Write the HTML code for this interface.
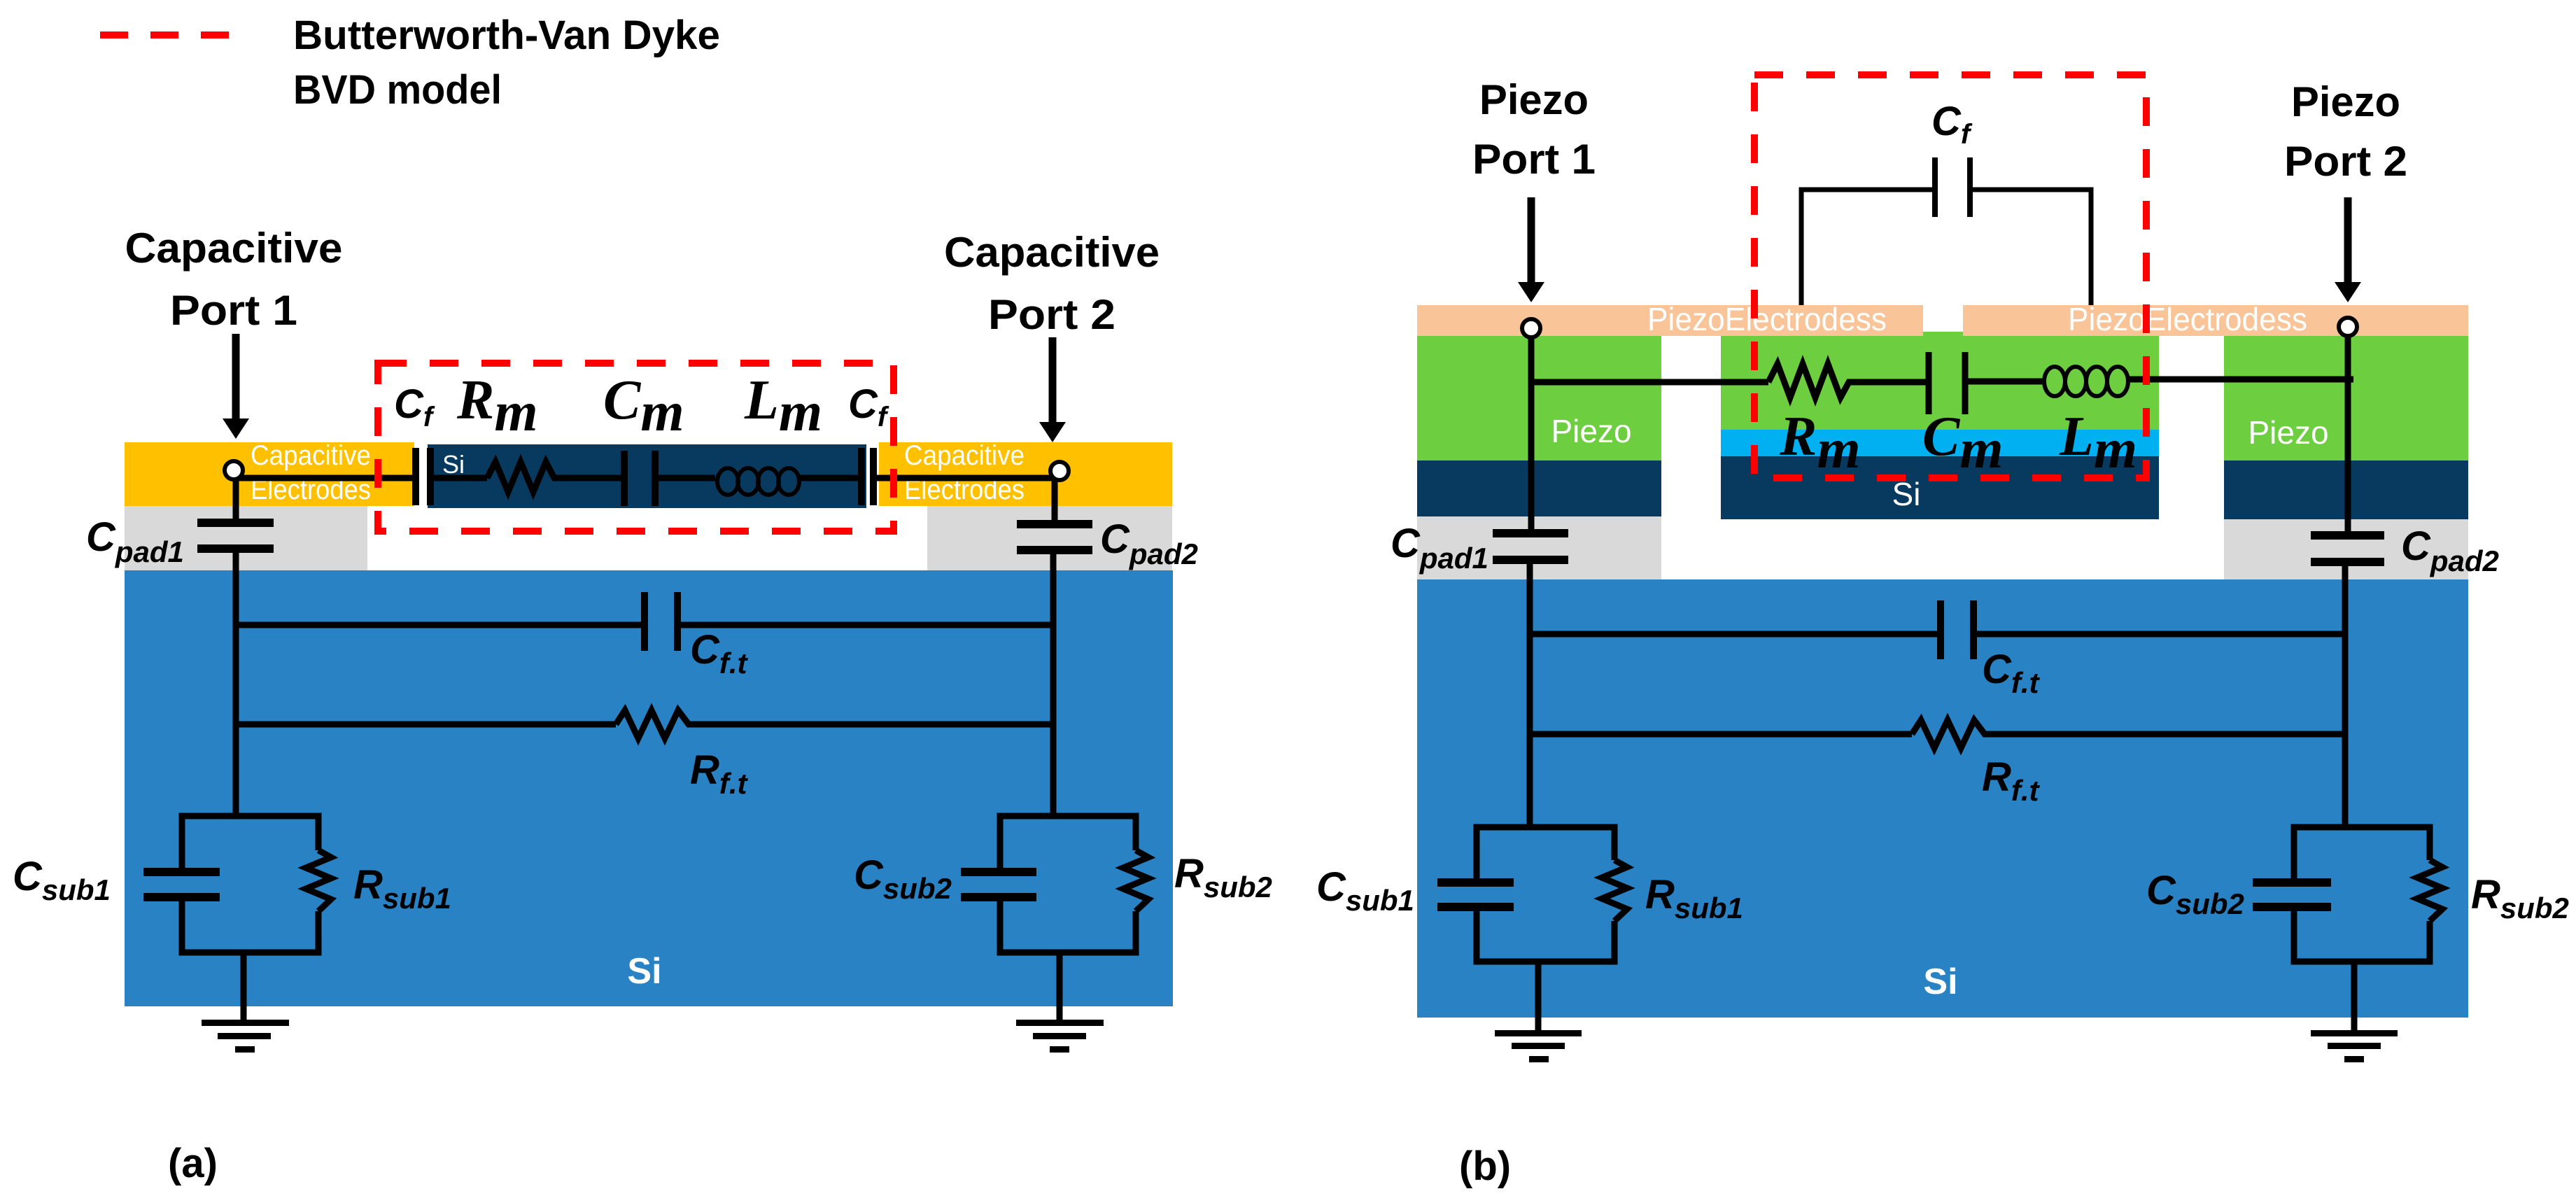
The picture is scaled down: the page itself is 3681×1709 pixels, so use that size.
<!DOCTYPE html>
<html><head><meta charset="utf-8"><style>html,body{margin:0;padding:0;background:#fff}svg{display:block}
.h{font-family:"Liberation Sans",sans-serif;font-weight:bold;fill:#000}
.l{font-family:"Liberation Sans",sans-serif;font-weight:bold;font-style:italic;fill:#000;font-size:58px}
.m{font-family:"Liberation Serif",serif;font-weight:bold;font-style:italic;fill:#000;font-size:80px}
.w{font-family:"Liberation Sans",sans-serif;fill:#fff}
</style></head><body>
<svg width="3681" height="1709" viewBox="0 0 3681 1709" xmlns="http://www.w3.org/2000/svg">
<g stroke="#000" fill="none" stroke-width="9" stroke-linejoin="miter">
</g>
<!-- legend -->
<line x1="143" y1="50" x2="333" y2="50" stroke="#f00" stroke-width="10" stroke-dasharray="40,32"/>
<text class="h" x="419" y="70" font-size="58" textLength="610" lengthAdjust="spacingAndGlyphs">Butterworth-Van Dyke</text>
<text class="h" x="419" y="148" font-size="58" textLength="298" lengthAdjust="spacingAndGlyphs">BVD model</text>

<!-- ===== (a) ===== -->
<rect x="178" y="723" width="347" height="95" fill="#d9d9d9"/>
<rect x="1453" y="723" width="222" height="95" fill="#d9d9d9"/>
<rect x="1325" y="723" width="350" height="95" fill="#d9d9d9"/>
<rect x="178" y="815" width="1498" height="623" fill="#2882c4"/>
<rect x="178" y="632" width="414" height="91" fill="#ffc000"/>
<rect x="611" y="635" width="627" height="91" fill="#083a5f"/>
<rect x="1256" y="632" width="419" height="91" fill="#ffc000"/>
<text class="w" x="358" y="664" font-size="40" textLength="172" lengthAdjust="spacingAndGlyphs">Capacitive</text>
<text class="w" x="358" y="713" font-size="40" textLength="172" lengthAdjust="spacingAndGlyphs">Electrodes</text>
<text class="w" x="1292" y="664" font-size="40" textLength="172" lengthAdjust="spacingAndGlyphs">Capacitive</text>
<text class="w" x="1292" y="713" font-size="40" textLength="172" lengthAdjust="spacingAndGlyphs">Electrodes</text>
<text class="w" x="632" y="676" font-size="36">Si</text>
<text class="w" x="921" y="1405" font-size="52" font-weight="bold" text-anchor="middle">Si</text>

<text class="h" x="334" y="375" font-size="60" text-anchor="middle" textLength="311" lengthAdjust="spacingAndGlyphs">Capacitive</text>
<text class="h" x="334" y="464" font-size="60" text-anchor="middle" textLength="182" lengthAdjust="spacingAndGlyphs">Port 1</text>
<text class="h" x="1503" y="381" font-size="60" text-anchor="middle" textLength="308" lengthAdjust="spacingAndGlyphs">Capacitive</text>
<text class="h" x="1503" y="470" font-size="60" text-anchor="middle" textLength="182" lengthAdjust="spacingAndGlyphs">Port 2</text>

<g stroke="#000" fill="none" stroke-width="9">
<!-- arrows -->
<line x1="337" y1="477" x2="337" y2="600" stroke-width="11"/>
<line x1="1504" y1="482" x2="1504" y2="605" stroke-width="11"/>
<!-- BVD chain -->
<line x1="338" y1="683" x2="594" y2="683"/>
<line x1="594" y1="640" x2="594" y2="722" stroke-width="10"/>
<line x1="615" y1="640" x2="615" y2="722" stroke-width="10"/>
<line x1="615" y1="683" x2="696" y2="683"/>
<polyline points="696,683 708,660 726,703 744,660 762,703 780,660 792,683 801,683"/>
<line x1="801" y1="683" x2="892" y2="683"/>
<line x1="892" y1="644" x2="892" y2="723" stroke-width="10"/>
<line x1="936" y1="644" x2="936" y2="723" stroke-width="10"/>
<line x1="936" y1="683" x2="1022" y2="683"/>
<ellipse cx="1040" cy="688" rx="15" ry="19" stroke-width="6"/>
<ellipse cx="1069" cy="688" rx="15" ry="19" stroke-width="6"/>
<ellipse cx="1098" cy="688" rx="15" ry="19" stroke-width="6"/>
<ellipse cx="1127" cy="688" rx="15" ry="19" stroke-width="6"/>
<line x1="1142" y1="683" x2="1231" y2="683"/>
<line x1="1231" y1="640" x2="1231" y2="722" stroke-width="10"/>
<line x1="1248" y1="640" x2="1248" y2="722" stroke-width="10"/>
<line x1="1248" y1="683" x2="1508" y2="683"/>
<!-- left vertical -->
<line x1="337" y1="686" x2="337" y2="747"/>
<line x1="282" y1="747" x2="391" y2="747" stroke-width="12"/>
<line x1="282" y1="784" x2="391" y2="784" stroke-width="12"/>
<line x1="337" y1="784" x2="337" y2="1166"/>
<!-- right vertical -->
<line x1="1507" y1="686" x2="1507" y2="749"/>
<line x1="1453" y1="749" x2="1561" y2="749" stroke-width="12"/>
<line x1="1453" y1="786" x2="1561" y2="786" stroke-width="12"/>
<line x1="1505" y1="786" x2="1505" y2="1166"/>
<!-- Cf.t -->
<line x1="337" y1="893" x2="921" y2="893"/>
<line x1="921" y1="846" x2="921" y2="930" stroke-width="10"/>
<line x1="968" y1="846" x2="968" y2="930" stroke-width="10"/>
<line x1="968" y1="893" x2="1505" y2="893"/>
<!-- Rf.t -->
<line x1="337" y1="1035" x2="880" y2="1035"/>
<polyline points="880,1035 893,1015 912,1055 931,1015 950,1055 969,1015 984,1035 997,1035"/>
<line x1="997" y1="1035" x2="1505" y2="1035"/>
<!-- sub box left -->
<polyline points="260,1246 260,1166 455,1166 455,1215"/>
<polyline points="455,1215 473,1225 437,1240 473,1255 437,1270 473,1285 455,1302"/>
<polyline points="455,1302 455,1361 260,1361 260,1282"/>
<line x1="205" y1="1246" x2="314" y2="1246" stroke-width="12"/>
<line x1="205" y1="1282" x2="314" y2="1282" stroke-width="12"/>
<line x1="348" y1="1361" x2="348" y2="1461"/>
<!-- sub box right -->
<polyline points="1429,1246 1429,1166 1623,1166 1623,1215"/>
<polyline points="1623,1215 1641,1225 1605,1240 1641,1255 1605,1270 1641,1285 1623,1302"/>
<polyline points="1623,1302 1623,1361 1429,1361 1429,1282"/>
<line x1="1373" y1="1246" x2="1481" y2="1246" stroke-width="12"/>
<line x1="1373" y1="1282" x2="1481" y2="1282" stroke-width="12"/>
<line x1="1514" y1="1361" x2="1514" y2="1461"/>
</g>
<polygon points="318,598 356,598 337,627" fill="#000"/>
<polygon points="1485,603 1523,603 1504,632" fill="#000"/>
<circle cx="334" cy="672" r="13" fill="#fff" stroke="#000" stroke-width="6"/>
<circle cx="1514" cy="673" r="13" fill="#fff" stroke="#000" stroke-width="6"/>
<g fill="#000">
<rect x="288" y="1457" width="125" height="9"/><rect x="311" y="1476" width="76" height="9"/><rect x="336" y="1495" width="28" height="9"/>
<rect x="1452" y="1457" width="125" height="9"/><rect x="1476" y="1476" width="76" height="9"/><rect x="1500" y="1495" width="28" height="9"/>
</g>
<!-- red box a -->
<rect x="540" y="519" width="737" height="240" fill="none" stroke="#f00" stroke-width="10" stroke-dasharray="41,33"/>
<!-- labels a -->
<text class="l" x="563" y="597">C<tspan font-size="40" dy="12">f</tspan></text>
<text class="m" x="653" y="598">R<tspan dy="17">m</tspan></text>
<text class="m" x="862" y="598">C<tspan dy="17">m</tspan></text>
<text class="m" x="1064" y="598">L<tspan dy="17">m</tspan></text>
<text class="l" x="1212" y="597">C<tspan font-size="40" dy="12">f</tspan></text>
<text class="l" x="123" y="787">C<tspan font-size="42" dy="16">pad1</tspan></text>
<text class="l" x="1572" y="790">C<tspan font-size="42" dy="16">pad2</tspan></text>
<text class="l" x="986" y="948">C<tspan font-size="42" dy="14">f.t</tspan></text>
<text class="l" x="986" y="1120">R<tspan font-size="42" dy="14">f.t</tspan></text>
<text class="l" x="18" y="1272">C<tspan font-size="42" dy="14">sub1</tspan></text>
<text class="l" x="505" y="1284">R<tspan font-size="42" dy="14">sub1</tspan></text>
<text class="l" x="1220" y="1270">C<tspan font-size="42" dy="14">sub2</tspan></text>
<text class="l" x="1678" y="1268">R<tspan font-size="42" dy="14">sub2</tspan></text>
<text class="h" x="240" y="1682" font-size="58">(a)</text>

<!-- ===== (b) ===== -->
<rect x="2025" y="738" width="349" height="90" fill="#d9d9d9"/>
<rect x="3178" y="742" width="349" height="86" fill="#d9d9d9"/>
<rect x="2025" y="828" width="1502" height="626" fill="#2882c4"/>
<rect x="2025" y="474" width="349" height="184" fill="#6dcf40"/>
<rect x="2025" y="658" width="349" height="80" fill="#083a5f"/>
<rect x="2459" y="474" width="626" height="140" fill="#6dcf40"/>
<rect x="2459" y="614" width="626" height="38" fill="#00b0f0"/>
<rect x="2459" y="652" width="626" height="90" fill="#083a5f"/>
<rect x="3178" y="474" width="349" height="184" fill="#6dcf40"/>
<rect x="3178" y="658" width="349" height="84" fill="#083a5f"/>
<rect x="2025" y="436" width="723" height="44" fill="#f9c498"/>
<rect x="2805" y="436" width="722" height="44" fill="#f9c498"/>
<text class="w" x="2354" y="472" font-size="46" textLength="342" lengthAdjust="spacingAndGlyphs">PiezoElectrodess</text>
<text class="w" x="2955" y="472" font-size="46" textLength="342" lengthAdjust="spacingAndGlyphs">PiezoElectrodess</text>
<text class="w" x="2274" y="632" font-size="46" text-anchor="middle">Piezo</text>
<text class="w" x="3270" y="634" font-size="46" text-anchor="middle">Piezo</text>
<text class="w" x="2724" y="722" font-size="46" text-anchor="middle">Si</text>
<text class="w" x="2773" y="1420" font-size="52" font-weight="bold" text-anchor="middle">Si</text>

<text class="h" x="2192" y="163" font-size="60" text-anchor="middle" textLength="156" lengthAdjust="spacingAndGlyphs">Piezo</text>
<text class="h" x="2192" y="248" font-size="60" text-anchor="middle" textLength="176" lengthAdjust="spacingAndGlyphs">Port 1</text>
<text class="h" x="3352" y="166" font-size="60" text-anchor="middle" textLength="156" lengthAdjust="spacingAndGlyphs">Piezo</text>
<text class="h" x="3352" y="251" font-size="60" text-anchor="middle" textLength="176" lengthAdjust="spacingAndGlyphs">Port 2</text>

<g stroke="#000" fill="none" stroke-width="9">
<line x1="2188" y1="282" x2="2188" y2="405" stroke-width="11"/>
<line x1="3355" y1="282" x2="3355" y2="405" stroke-width="11"/>
<!-- Cf top -->
<polyline points="2574,436 2574,271 2765,271" stroke-width="7"/>
<polyline points="2815,271 2988,271 2988,436" stroke-width="7"/>
<line x1="2765" y1="225" x2="2765" y2="310" stroke-width="8"/>
<line x1="2815" y1="225" x2="2815" y2="310" stroke-width="8"/>
<!-- main chain -->
<line x1="2188" y1="546" x2="2527" y2="546"/>
<polyline points="2527,546 2540,520 2558,568 2576,520 2594,568 2612,520 2630,568 2642,546 2650,546"/>
<line x1="2650" y1="546" x2="2756" y2="546"/>
<line x1="2756" y1="503" x2="2756" y2="592" stroke-width="9"/>
<line x1="2808" y1="503" x2="2808" y2="592" stroke-width="9"/>
<line x1="2808" y1="545" x2="2918" y2="545"/>
<ellipse cx="2936" cy="545" rx="15" ry="21" stroke-width="6"/>
<ellipse cx="2966" cy="545" rx="15" ry="21" stroke-width="6"/>
<ellipse cx="2996" cy="545" rx="15" ry="21" stroke-width="6"/>
<ellipse cx="3026" cy="545" rx="15" ry="21" stroke-width="6"/>
<line x1="3041" y1="542" x2="3363" y2="542"/>
<!-- verticals -->
<line x1="2188" y1="472" x2="2188" y2="762"/>
<line x1="2133" y1="762" x2="2241" y2="762" stroke-width="12"/>
<line x1="2133" y1="800" x2="2241" y2="800" stroke-width="12"/>
<line x1="2186" y1="800" x2="2186" y2="1182"/>
<line x1="3355" y1="470" x2="3355" y2="765"/>
<line x1="3302" y1="765" x2="3407" y2="765" stroke-width="12"/>
<line x1="3302" y1="803" x2="3407" y2="803" stroke-width="12"/>
<line x1="3351" y1="803" x2="3351" y2="1182"/>
<!-- Cf.t -->
<line x1="2186" y1="906" x2="2773" y2="906"/>
<line x1="2773" y1="858" x2="2773" y2="942" stroke-width="10"/>
<line x1="2820" y1="858" x2="2820" y2="942" stroke-width="10"/>
<line x1="2820" y1="906" x2="3351" y2="906"/>
<!-- Rf.t -->
<line x1="2186" y1="1049" x2="2732" y2="1049"/>
<polyline points="2732,1049 2745,1029 2764,1069 2783,1029 2802,1069 2821,1029 2836,1049 2844,1049"/>
<line x1="2844" y1="1049" x2="3351" y2="1049"/>
<!-- sub boxes -->
<polyline points="2110,1261 2110,1182 2307,1182 2307,1229"/>
<polyline points="2307,1229 2325,1239 2289,1254 2325,1269 2289,1284 2325,1299 2307,1316"/>
<polyline points="2307,1316 2307,1374 2110,1374 2110,1296"/>
<line x1="2054" y1="1261" x2="2163" y2="1261" stroke-width="12"/>
<line x1="2054" y1="1296" x2="2163" y2="1296" stroke-width="12"/>
<line x1="2198" y1="1374" x2="2198" y2="1476"/>
<polyline points="3278,1261 3278,1182 3472,1182 3472,1229"/>
<polyline points="3472,1229 3490,1239 3454,1254 3490,1269 3454,1284 3490,1299 3472,1316"/>
<polyline points="3472,1316 3472,1374 3278,1374 3278,1296"/>
<line x1="3219" y1="1261" x2="3331" y2="1261" stroke-width="12"/>
<line x1="3219" y1="1296" x2="3331" y2="1296" stroke-width="12"/>
<line x1="3364" y1="1374" x2="3364" y2="1476"/>
</g>
<polygon points="2169,403 2207,403 2188,432" fill="#000"/>
<polygon points="3336,403 3374,403 3355,432" fill="#000"/>
<circle cx="2188" cy="469" r="13" fill="#fff" stroke="#000" stroke-width="6"/>
<circle cx="3355" cy="467" r="13" fill="#fff" stroke="#000" stroke-width="6"/>
<g fill="#000">
<rect x="2136" y="1472" width="124" height="9"/><rect x="2160" y="1490" width="76" height="9"/><rect x="2185" y="1509" width="28" height="9"/>
<rect x="3302" y="1472" width="124" height="9"/><rect x="3326" y="1490" width="76" height="9"/><rect x="3350" y="1509" width="28" height="9"/>
</g>
<rect x="2507" y="107" width="560" height="576" fill="none" stroke="#f00" stroke-width="10" stroke-dasharray="41,33"/>
<text class="l" x="2760" y="193">C<tspan font-size="40" dy="12">f</tspan></text>
<text class="m" x="2543" y="650" font-size="72">R<tspan dy="18">m</tspan></text>
<text class="m" x="2747" y="650" font-size="72">C<tspan dy="18">m</tspan></text>
<text class="m" x="2943" y="650" font-size="72">L<tspan dy="18">m</tspan></text>
<text class="l" x="1987" y="796">C<tspan font-size="42" dy="16">pad1</tspan></text>
<text class="l" x="3431" y="800">C<tspan font-size="42" dy="16">pad2</tspan></text>
<text class="l" x="2832" y="976">C<tspan font-size="42" dy="14">f.t</tspan></text>
<text class="l" x="2832" y="1130">R<tspan font-size="42" dy="14">f.t</tspan></text>
<text class="l" x="1881" y="1287">C<tspan font-size="42" dy="14">sub1</tspan></text>
<text class="l" x="2351" y="1298">R<tspan font-size="42" dy="14">sub1</tspan></text>
<text class="l" x="3067" y="1292">C<tspan font-size="42" dy="14">sub2</tspan></text>
<text class="l" x="3531" y="1298">R<tspan font-size="42" dy="14">sub2</tspan></text>
<text class="h" x="2085" y="1686" font-size="58">(b)</text>
</svg>
</body></html>
